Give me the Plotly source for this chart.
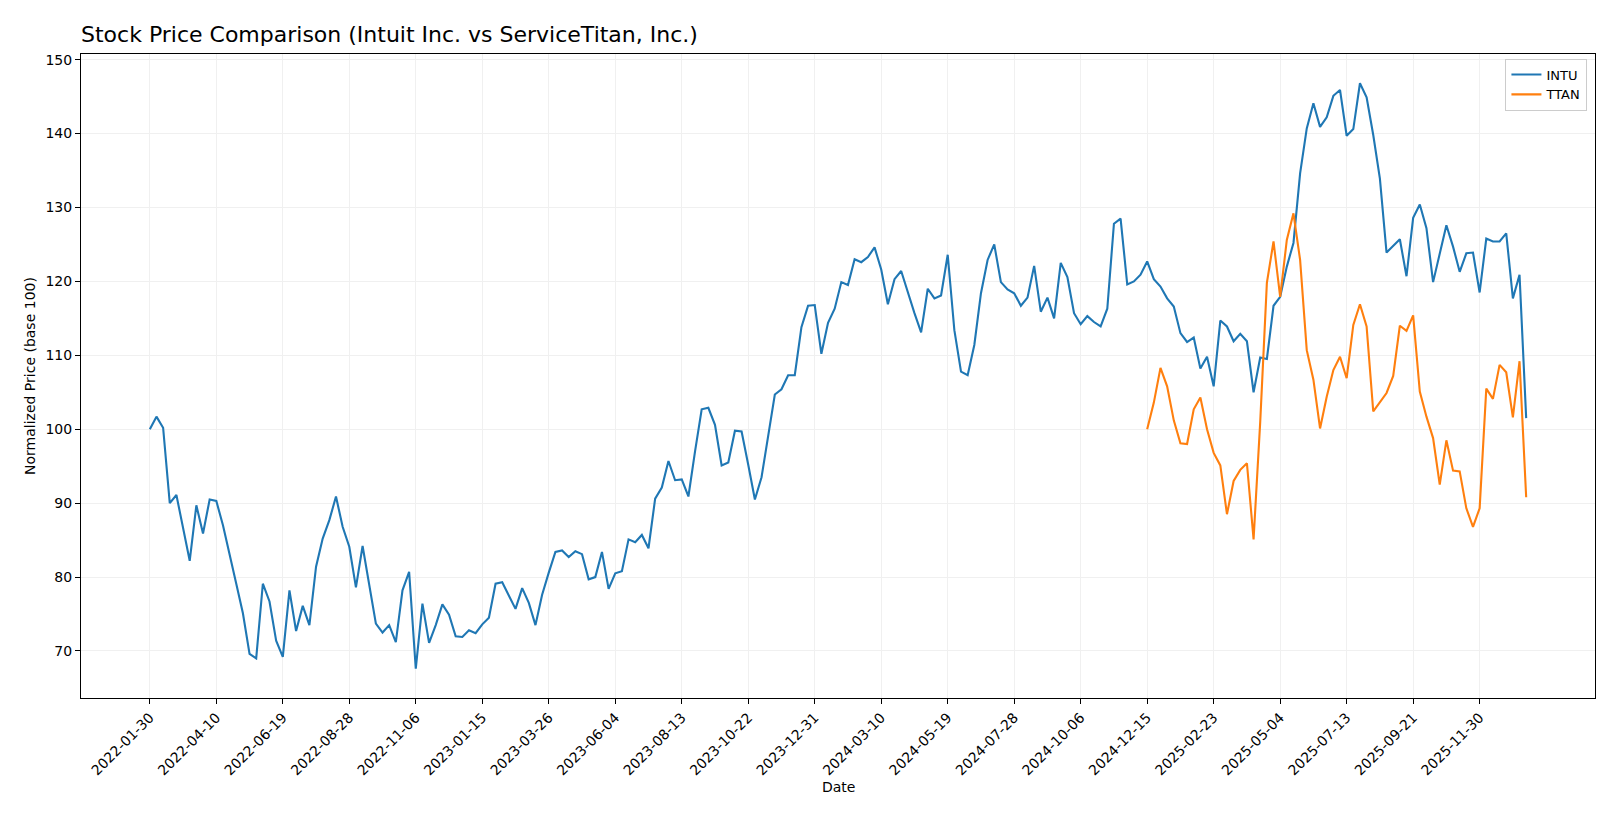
import pandas as pd
import plotly.graph_objects as go

start_date = "2022-01-30"
intu_values = [
    100.0, 101.7, 100.2, 90.0, 91.1, 86.7, 82.2, 89.7, 85.9, 90.5,
    90.3, 87.0, 83.2, 79.1, 75.1, 69.6, 69.0, 79.1, 76.7, 71.4,
    69.2, 78.2, 72.7, 76.1, 73.5, 81.4, 85.2, 87.7, 90.9, 86.8,
    84.1, 78.6, 84.2, 78.9, 73.7, 72.5, 73.5, 71.2, 78.2, 80.7,
    67.6, 76.4, 71.1, 73.5, 76.3, 74.9, 72.0, 71.9, 72.8, 72.4,
    73.6, 74.5, 79.1, 79.3, 77.4, 75.7, 78.5, 76.5, 73.5, 77.6,
    80.6, 83.4, 83.6, 82.7, 83.5, 83.1, 79.7, 80.0, 83.4, 78.4,
    80.5, 80.8, 85.1, 84.7, 85.7, 83.9, 90.6, 92.1, 95.7, 93.1,
    93.2, 90.9, 97.0, 102.7, 102.9, 100.6, 95.1, 95.5, 99.8, 99.7,
    95.2, 90.5, 93.5, 99.2, 104.7, 105.4, 107.3, 107.3, 113.8, 116.7,
    116.8, 110.2, 114.4, 116.3, 119.9, 119.5, 123.0, 122.6, 123.3, 124.6,
    121.6, 116.9, 120.3, 121.4, 118.4, 115.7, 113.1, 119.0, 117.7, 118.1,
    123.6, 113.4, 107.8, 107.3, 111.4, 118.4, 122.9, 125.0, 119.9, 118.9,
    118.4, 116.7, 117.8, 122.1, 115.9, 117.8, 115.0, 122.5, 120.6, 115.7,
    114.2, 115.3, 114.5, 113.9, 116.3, 127.8, 128.5, 119.6, 120.0, 120.9,
    122.7, 120.3, 119.3, 117.7, 116.6, 113.0, 111.8, 112.4, 108.2, 109.8,
    105.8, 114.7, 113.9, 111.9, 112.9, 111.9, 105.0, 109.7, 109.5, 116.7,
    117.9, 122.0, 125.2, 134.6, 140.7, 144.1, 140.9, 142.2, 145.1, 145.9,
    139.7, 140.6, 146.8, 144.9, 139.8, 133.9, 123.9, 124.8, 125.7, 120.7,
    128.6, 130.4, 127.2, 119.9, 123.8, 127.6, 124.7, 121.3, 123.8, 123.9,
    118.5, 125.8, 125.4, 125.4, 126.5, 117.7, 120.9, 101.5,
]
ttan_start_index = 150
ttan_values = [
    100.0, 103.6, 108.3, 105.8, 101.2, 98.1, 98.0, 102.7, 104.3, 100.0,
    96.8, 95.1, 88.5, 93.0, 94.5, 95.4, 85.1, 101.0, 119.8, 125.4,
    117.9, 125.6, 129.2, 122.9, 110.7, 106.7, 100.1, 104.4, 108.0, 109.8,
    106.9, 114.1, 116.9, 113.9, 102.4, 103.7, 104.9, 107.2, 114.0, 113.3,
    115.4, 105.1, 101.7, 98.8, 92.5, 98.5, 94.4, 94.3, 89.3, 86.8,
    89.3, 105.5, 104.1, 108.7, 107.7, 101.6, 109.2, 90.8,
]
tick_dates = [
    "2022-01-30", "2022-04-10", "2022-06-19", "2022-08-28", "2022-11-06",
    "2023-01-15", "2023-03-26", "2023-06-04", "2023-08-13", "2023-10-22",
    "2023-12-31", "2024-03-10", "2024-05-19", "2024-07-28", "2024-10-06",
    "2024-12-15", "2025-02-23", "2025-05-04", "2025-07-13", "2025-09-21",
    "2025-11-30",
]
y_ticks = [70, 80, 90, 100, 110, 120, 130, 140, 150]

dates = pd.date_range(start_date, periods=len(intu_values), freq="7D")
ttan_dates = dates[ttan_start_index:ttan_start_index + len(ttan_values)]

fig = go.Figure()
fig.add_trace(go.Scatter(x=dates, y=intu_values, mode="lines", name="INTU",
                         line=dict(color="#1f77b4", width=2.1)))
fig.add_trace(go.Scatter(x=ttan_dates, y=ttan_values, mode="lines", name="TTAN",
                         line=dict(color="#ff7f0e", width=2.1)))

span = dates[-1] - dates[0]
x_range = [dates[0] - span * 0.05, dates[-1] + span * 0.05]
all_vals = intu_values + ttan_values
ymin, ymax = min(all_vals), max(all_vals)
ys = ymax - ymin
y_range = [ymin - 0.05 * ys, ymax + 0.05 * ys]

font = "DejaVu Sans, sans-serif"
fig.update_layout(
    width=1620, height=819,
    margin=dict(l=81, r=25, t=54, b=121, autoexpand=False),
    paper_bgcolor="white", plot_bgcolor="white",
    font=dict(family=font, size=14, color="black"),
    title=dict(text="Stock Price Comparison (Intuit Inc. vs ServiceTitan, Inc.)",
               x=81 / 1620, xanchor="left", xref="container",
               y=1 - 34 / 819, yanchor="middle", yref="container",
               font=dict(size=22, family=font, color="black")),
    showlegend=True,
    legend=dict(x=0.995, y=0.993, xanchor="right", yanchor="top",
                bordercolor="#cccccc", borderwidth=1, bgcolor="rgba(255,255,255,0.8)",
                tracegroupgap=0, font=dict(size=13, family=font)),
    xaxis=dict(range=x_range, type="date",
               tickmode="array", tickvals=tick_dates, ticktext=tick_dates,
               tickangle=-45, ticks="outside", ticklen=5, tickcolor="black",
               showline=True, linecolor="black", linewidth=1, mirror=True,
               showgrid=True, gridcolor="#f0f0f0", gridwidth=1, zeroline=False,
               tickfont=dict(size=14, family=font)),
    yaxis=dict(range=y_range, tickmode="array", tickvals=y_ticks,
               ticks="outside", ticklen=5, tickcolor="black",
               showline=True, linecolor="black", linewidth=1, mirror=True,
               showgrid=True, gridcolor="#f0f0f0", gridwidth=1, zeroline=False,
               tickfont=dict(size=14, family=font)),
    annotations=[
        dict(text="Date", xref="paper", yref="paper", x=0.5, y=(698 - 787) / 644,
             showarrow=False, xanchor="center", yanchor="middle",
             font=dict(size=14, family=font)),
        dict(text="Normalized Price (base 100)", xref="paper", yref="paper",
             x=(30 - 81) / 1514, y=0.5, textangle=-90, showarrow=False,
             xanchor="center", yanchor="middle", font=dict(size=14, family=font)),
    ],
)

fig.write_html("out.html", config={"displayModeBar": False},
               post_script="document.body.style.margin='0';")
